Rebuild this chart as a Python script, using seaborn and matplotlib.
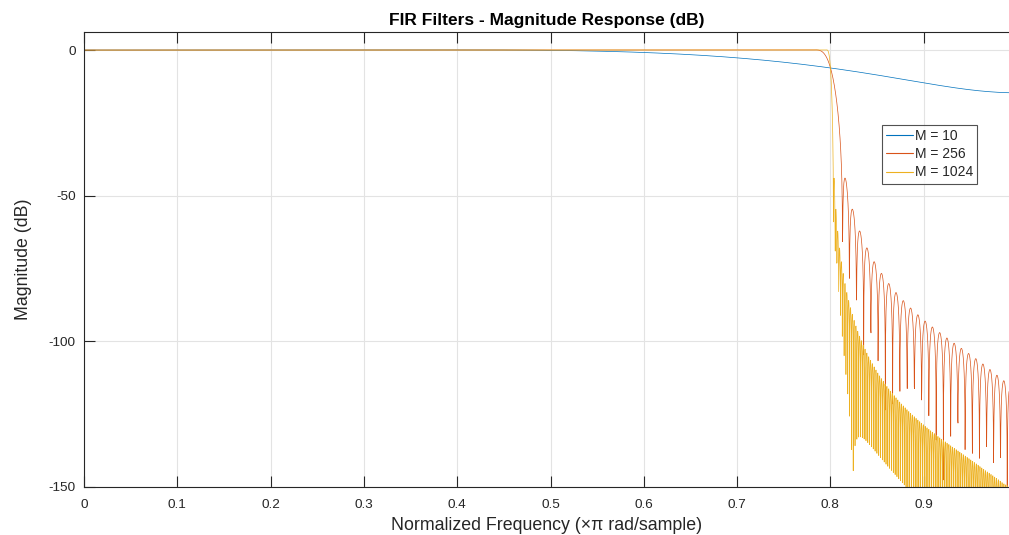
import numpy as np
import pandas as pd
import matplotlib
matplotlib.use("Agg")
import matplotlib.pyplot as plt
import seaborn as sns

# ---- data: FIR filter specs (Hann-windowed sinc low-pass) ----
ORDERS = [10, 256, 1024]          # filter order M
CUTOFF = 0.8                      # normalized cutoff (x pi rad/sample)
N_FREQ = 4096                     # number of frequency points (freqz style)
LABELS = ["M = 10", "M = 256", "M = 1024"]
COLORS = ["#0072BD", "#D95319", "#EDB120"]
X_TICKS = [0, 0.1, 0.2, 0.3, 0.4, 0.5, 0.6, 0.7, 0.8, 0.9]
Y_TICKS = [0, -50, -100, -150]


def fir_response(order, cutoff, nfreq):
    n = np.arange(order + 1)
    h = cutoff * np.sinc(cutoff * (n - order / 2.0)) * np.hanning(order + 1)
    h = h / h.sum()
    H = np.fft.fft(h, 2 * nfreq)[:nfreq]
    w = np.arange(nfreq) / nfreq
    with np.errstate(divide="ignore"):
        mag = 20 * np.log10(np.abs(H))
    return w, mag


frames = []
for order, lab in zip(ORDERS, LABELS):
    w, mag = fir_response(order, CUTOFF, N_FREQ)
    frames.append(pd.DataFrame({"freq": w, "mag": mag, "filter": lab}))
df = pd.concat(frames, ignore_index=True)
df["mag"] = df["mag"].clip(lower=-400)

sns.set_style("white")
plt.rcParams["font.family"] = ["Liberation Sans", "DejaVu Sans"]
plt.rcParams["axes.unicode_minus"] = False

fig = plt.figure(figsize=(10.09, 5.35), dpi=100)
W, Hh = 1009, 535
ax = fig.add_axes([84 / W, 48 / Hh, (1009 - 84) / W, (487 - 32) / Hh])

sns.lineplot(data=df, x="freq", y="mag", hue="filter", hue_order=LABELS,
             palette=COLORS, estimator=None, sort=False, linewidth=0.5,
             ax=ax, legend=True)

ax.set_xlim(0, 925 / 933.0)
ax.set_ylim(-150, 6.2)
ax.set_xticks(X_TICKS)
ax.set_xticklabels([("%g" % t) for t in X_TICKS])
ax.set_yticks(Y_TICKS)
ax.set_yticklabels([("%d" % t) for t in Y_TICKS])

edge = "#262626"
ax.grid(True, color="#e3e3e3", linewidth=0.8)
ax.set_axisbelow(True)
for side in ["left", "bottom", "top"]:
    ax.spines[side].set_color(edge)
    ax.spines[side].set_linewidth(0.8)
ax.spines["right"].set_visible(False)
ax.tick_params(axis="both", direction="in", length=8, width=0.8, color=edge,
               labelsize=9.7, labelcolor=edge, top=True, bottom=True,
               left=True, right=False)
ax.tick_params(axis="x", pad=9)
ax.tick_params(axis="y", pad=6)

ax.set_title("FIR Filters - Magnitude Response (dB)", fontsize=12.5,
             fontweight="bold", color="black", pad=5)
ax.set_xlabel("Normalized Frequency (\u00d7\u03c0 rad/sample)", fontsize=12.8,
              color=edge, labelpad=4)
ax.set_ylabel("Magnitude (dB)", fontsize=12.8, color=edge, labelpad=12)

handles, labels = ax.get_legend_handles_labels()
leg = ax.legend(handles, labels, loc="upper left",
                bbox_to_anchor=((882 - 84) / 925, (487 - 125) / 455),
                borderaxespad=0, fontsize=10, frameon=True, fancybox=False,
                edgecolor=edge, handlelength=1.9, handletextpad=0.15,
                borderpad=0.3, labelspacing=0.3)
leg.get_frame().set_linewidth(0.8)
for lh in leg.get_lines():
    lh.set_linewidth(0.8)

fig.savefig("out.png", dpi=100)
